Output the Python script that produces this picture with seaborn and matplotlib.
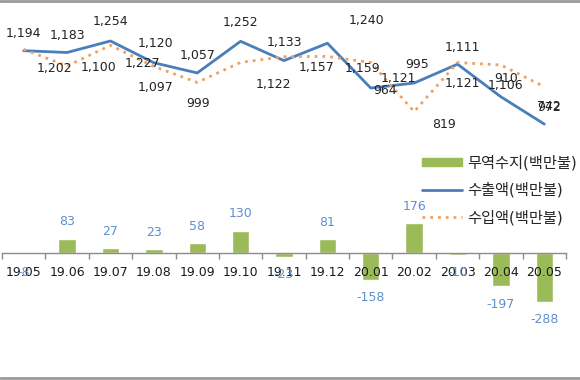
#무역수지 차트 재현
import numpy as np
import matplotlib
matplotlib.use('Agg')
import matplotlib.pyplot as plt
import seaborn as sns
from matplotlib.lines import Line2D
from matplotlib.patches import Patch

#데이터
months = ['19.05', '19.06', '19.07', '19.08', '19.09', '19.10', '19.11',
          '19.12', '20.01', '20.02', '20.03', '20.04', '20.05']
exports = [1194, 1183, 1254, 1120, 1057, 1252, 1133, 1240, 964, 995, 1111, 910, 742]
imports = [1202, 1100, 1227, 1097, 999, 1122, 1157, 1159, 1121, 819, 1121, 1106, 972]
balance = [-8, 83, 27, 23, 58, 130, -23, 81, -158, 176, -10, -197, -288]
labels = ['무역수지(백만불)', '수출액(백만불)', '수입액(백만불)']

#라벨 위치 (픽셀 오프셋, 엑셀에서 흐트러진 위치 흉내)
exp_off = [(0, 17), (0, 17), (0, 19), (2, 19), (0, 17), (0, 19), (0, 18),
           (39, 23), (14, -2), (3, 19), (5, 17), (5, 18), (5, 18)]
imp_off = [(31, -19), (31, -2), (32, -18), (2, -21), (1, -21), (33, -22), (33, -11),
           (35, -12), (28, -16), (30, -13), (5, -21), (5, -21), (5, -21)]

sns.set_style('white')
plt.rcParams['font.family'] = ['DejaVu Sans', 'Noto Sans CJK KR']

fig = plt.figure(figsize=(5.8, 3.8), dpi=100)
ax = fig.add_axes([2/580, 40/380, 564/580, 325/380])

#막대 - 무역수지
sns.barplot(x=months, y=balance, color='#9bbb59', width=0.4, saturation=1, ax=ax)
for i, v in enumerate(balance):
    ax.annotate(f'{v}', (i, v), xytext=(0, 17 if v > 0 else -18),
                textcoords='offset pixels', ha='center', va='center',
                fontsize=9, color='#5e8fcf')

ax.set_axisbelow(False)
ax.set_xlim(-0.5, 12.5)
ax.set_ylim(-513, 1404)
ax.set_yticks([])
ax.set_ylabel('')
ax.set_xlabel('')
for s in ['top', 'left', 'right']:
    ax.spines[s].set_visible(False)
ax.spines['bottom'].set_position(('data', 0))
ax.spines['bottom'].set_color('#8c8c8c')
ax.spines['bottom'].set_linewidth(1)
ax.set_xticks(np.arange(-0.5, 13, 1), minor=True)
ax.tick_params(axis='x', which='major', length=0, pad=9, labelsize=9, labelcolor='#1a1a1a')
ax.tick_params(axis='x', which='minor', bottom=True, length=4, width=1,
               color='#8c8c8c', direction='out')

#선 - 수출액, 수입액
ax2 = ax.twinx()
pos = np.arange(len(months))
sns.lineplot(x=pos, y=exports, ax=ax2, color='#4a7ebb', lw=2)
sns.lineplot(x=pos, y=imports, ax=ax2, color='#f0a060', lw=2, linestyle=(0, (1, 1.8)))
for i in range(len(months)):
    ax2.annotate(f'{exports[i]:,}', (i, exports[i]), xytext=exp_off[i],
                 textcoords='offset pixels', ha='center', va='center',
                 fontsize=9, color='#222222')
    ax2.annotate(f'{imports[i]:,}', (i, imports[i]), xytext=imp_off[i],
                 textcoords='offset pixels', ha='center', va='center',
                 fontsize=9, color='#222222')
ax2.set_ylim(-588, 1414)
ax2.set_xlim(-0.5, 12.5)
ax2.set_yticks([])
for s in ax2.spines.values():
    s.set_visible(False)

#범례
handles = [Patch(color='#9bbb59'),
           Line2D([], [], color='#4a7ebb', lw=2),
           Line2D([], [], color='#f0a060', lw=2, linestyle=(0, (1, 1.8)))]
fig.legend(handles, labels, loc='upper left', bbox_to_anchor=(422/580, 1 - 155/380),
           frameon=False, fontsize=11, handlelength=2.6, handleheight=0.5,
           handletextpad=0.35, labelspacing=0.78, borderpad=0, borderaxespad=0)

#테두리 선
fig.add_artist(Line2D([0, 1], [0.997, 0.997], color='#9a9a9a', lw=2, transform=fig.transFigure))
fig.add_artist(Line2D([0, 1], [0.004, 0.004], color='#9a9a9a', lw=2, transform=fig.transFigure))

fig.savefig('out.png', dpi=100)
